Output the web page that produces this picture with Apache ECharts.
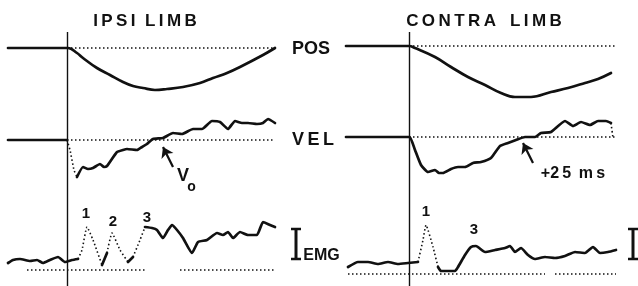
<!DOCTYPE html>
<html>
<head>
<meta charset="utf-8">
<script src="https://cdn.jsdelivr.net/npm/echarts@6/dist/echarts.min.js"></script>
<style>
  html, body { margin: 0; padding: 0; background: #fff; }
  #chart { width: 638px; height: 286px; }
</style>
</head>
<body>
<div id="chart"></div>
<script>
// t = ms from perturbation onset, v = deflection from the trace baseline (up positive)
var ipsiPos = [[-59,0],[0,0],[1,0],[10,-5],[16,-10],[30,-20],[43,-27],[56,-34],[66,-38],[76,-40],[88,-42],[100,-41],[116,-39],[133,-35],[146,-30],[160,-25],[173,-19],[196,-7],[208,0]];
var contraPos = [[-63,0],[0,0],[6,-2],[26,-11],[42,-21],[59,-31],[76,-39],[92,-47],[106,-51],[122,-51],[142,-46],[159,-42],[176,-37],[189,-33],[202,-27]];

var ipsiVel = [[-59,0],[0,0],[3,-10],[7,-30],[10,-37],[16,-27],[21,-29],[26,-28],[33,-24],[37,-27],[40,-26],[50,-12],[56,-10],[60,-9],[70,-10],[75,-7],[80,-4],[86,1],[96,2],[106,7],[115,6],[126,11],[135,11],[145,19],[153,18],[161,11],[168,19],[175,17],[181,17],[190,16],[196,17],[201,21],[208,17]];
var contraVel = [[-63,0],[0,0],[1,0],[6,-13],[12,-28],[19,-35],[26,-33],[30,-36],[34,-36],[42,-32],[49,-30],[56,-30],[64,-26],[72,-25],[82,-21],[91,-9],[99,-6],[107,-3],[116,0],[126,0],[132,4],[142,5],[156,16],[164,11],[172,15],[181,12],[189,16],[197,16],[202,14],[204,-1]];

var ipsiEmg = [[-59,7],[-54,10],[-47,11],[-37,9],[-30,10],[-24,7],[-17,10],[-9,13],[-2,8],[5,10],[11,11],[15,20],[20,43],[26,30],[35,5],[40,17],[45,37],[53,20],[61,8],[66,13],[73,30],[78,43],[85,42],[90,40],[96,32],[101,40],[105,45],[110,40],[116,32],[125,17],[131,28],[140,30],[150,37],[156,35],[161,38],[166,32],[173,38],[181,35],[190,35],[196,48],[203,45],[208,43]];
var contraEmg = [[-61,7],[-51,12],[-41,12],[-31,10],[-21,12],[-11,10],[-1,11],[9,12],[14,34],[17,49],[24,27],[29,7],[32,3],[46,3],[49,7],[56,19],[62,27],[67,28],[76,22],[86,24],[96,26],[101,28],[106,22],[112,26],[119,19],[126,15],[136,17],[146,16],[156,18],[166,22],[176,21],[184,27],[191,21],[199,22],[207,24]];

// parts of the traces that the scope drew as dots (fast sweeps)
var ipsiVelDots = [[0,10]];
var contraVelDots = [[202,210]];
var ipsiEmgDots = [[11,33],[38,58],[66,80]];
var contraEmgDots = [[9,30]];

// dotted reference lines (t ranges)
var ipsiEmgBase = [[-40,80],[113,208]];
var contraEmgBase = [[-61,136],[146,207]];

// arrows: [tail, tip]
var ipsiArrow = [[106,-27],[96,-7]];
var contraArrow = [[124,-26],[114,-6]];

var ink = '#111';
var FONT = '"Liberation Sans", Arial, sans-serif';

function pieces(pts, dots) {
  var out = [], cur = [pts[0]], curDot = null;
  for (var i = 1; i < pts.length; i++) {
    var mid = (pts[i - 1][0] + pts[i][0]) / 2;
    var d = dots.some(function (s) { return mid > s[0] && mid < s[1]; });
    if (curDot === null) curDot = d;
    if (d !== curDot) {
      out.push({ pts: cur, dot: curDot });
      cur = [pts[i - 1]];
      curDot = d;
    }
    cur.push(pts[i]);
  }
  out.push({ pts: cur, dot: curDot });
  return out;
}

function dotLines(ranges) {
  return ranges.map(function (r) { return [{ coord: [r[0], 0] }, { coord: [r[1], 0] }]; });
}

function traceSeries(pts, dots, idx, smooth, marks) {
  return pieces(pts, dots).map(function (p, k) {
    var s = {
      type: 'line', xAxisIndex: idx, yAxisIndex: idx, data: p.pts,
      symbol: 'none', smooth: smooth, silent: true,
      lineStyle: p.dot ? { color: ink, width: 1.6, type: [1.5, 2.5] } : { color: ink, width: 2.7, cap: 'round', join: 'round' }
    };
    if (k === 0 && marks) s.markLine = marks;
    return s;
  });
}

function baseMark(ranges, arrow) {
  var m = {
    silent: true, symbol: 'none', label: { show: false },
    lineStyle: { color: ink, width: 1.5, type: [1.5, 2.5] },
    data: dotLines(ranges)
  };
  if (arrow) {
    m.data.push([
      { coord: arrow[0], symbol: 'none', lineStyle: { type: 'solid', width: 2.2 } },
      { coord: arrow[1], symbol: 'arrow', symbolSize: 10 }
    ]);
  }
  return m;
}

// grid layout: [left, width, xmin, xmax]
var panels = [[8, 267, -59, 208], [346, 270, -63, 207]];
// rows: [top, height, ymin, ymax] per panel
var rows = [
  [[43, 50, -45, 5], [41, 60, -55, 5]],
  [[115, 65, -40, 25], [112, 65, -40, 25]],
  [[220, 55, -5, 50], [219, 60, -5, 55]]
];

var grids = [], xAxes = [], yAxes = [];
function addGrid(p, top, height, ymin, ymax) {
  grids.push({ left: p[0], width: p[1], top: top, height: height });
  var i = grids.length - 1;
  xAxes.push({ type: 'value', gridIndex: i, min: p[2], max: p[3], show: false });
  yAxes.push({ type: 'value', gridIndex: i, min: ymin, max: ymax, show: false });
}
rows.forEach(function (r) {
  addGrid(panels[0], r[0][0], r[0][1], r[0][2], r[0][3]);
  addGrid(panels[1], r[1][0], r[1][1], r[1][2], r[1][3]);
});
// onset marker grids, full panel height
addGrid(panels[0], 32, 254, 0, 1);
addGrid(panels[1], 32, 254, 0, 1);

var series = [].concat(
  traceSeries(ipsiPos, [], 0, 0.4, baseMark([[0, 208]])),
  traceSeries(contraPos, [], 1, 0.4, baseMark([[0, 206]])),
  traceSeries(ipsiVel, ipsiVelDots, 2, 0.15, baseMark([[0, 208]], ipsiArrow)),
  traceSeries(contraVel, contraVelDots, 3, 0.15, baseMark([[0, 207]], contraArrow)),
  traceSeries(ipsiEmg, ipsiEmgDots, 4, 0.15, baseMark(ipsiEmgBase)),
  traceSeries(contraEmg, contraEmgDots, 5, 0.15, baseMark(contraEmgBase))
);
[6, 7].forEach(function (g) {
  series.push({
    type: 'line', xAxisIndex: g, yAxisIndex: g, data: [], symbol: 'none', silent: true,
    markLine: {
      silent: true, symbol: 'none', label: { show: false },
      lineStyle: { color: ink, width: 1.4, type: 'solid' },
      data: [{ xAxis: 0 }]
    }
  });
});

function txt(s, x, y, size, weight) {
  return {
    type: 'text', silent: true,
    style: {
      text: s, x: x, y: y, fill: ink,
      font: (weight || 'normal') + ' ' + size + 'px ' + FONT,
      textAlign: 'center', textVerticalAlign: 'middle'
    }
  };
}
function bar(x, y1, y2) {
  var st = { stroke: ink, lineWidth: 2.5 };
  return [
    { type: 'line', silent: true, shape: { x1: x, y1: y1, x2: x, y2: y2 }, style: { stroke: ink, lineWidth: 3 } },
    { type: 'line', silent: true, shape: { x1: x - 5, y1: y1 + 1, x2: x + 5, y2: y1 + 1 }, style: st },
    { type: 'line', silent: true, shape: { x1: x - 5, y1: y2 - 1, x2: x + 5, y2: y2 - 1 }, style: st }
  ];
}

var thin = '\u2009';
var graphic = [
  txt(['I', 'P', 'S', 'I'].join(thin) + '  ' + ['L', 'I', 'M', 'B'].join(thin), 145, 21, 17, 'bold'),
  txt(['C', 'O', 'N', 'T', 'R', 'A'].join(thin) + '   ' + ['L', 'I', 'M', 'B'].join(thin), 484, 21.5, 17, 'bold'),
  txt('POS', 311, 49, 18, 'bold'),
  txt('V' + thin + 'E' + thin + 'L', 313, 140, 18, 'bold'),
  txt('EMG', 321.5, 256, 16, 'bold'),
  txt('+2' + thin + '5' + thin + ' m' + thin + 's', 573, 174, 16, 'bold'),
  txt('V', 183, 176.5, 18, 'bold'),
  txt('o', 191.5, 187, 14, 'bold'),
  txt('1', 86, 214, 15, 'bold'),
  txt('2', 113, 222, 15, 'bold'),
  txt('3', 147, 218, 15, 'bold'),
  txt('1', 426, 212, 15, 'bold'),
  txt('3', 474, 230, 15, 'bold')
].concat(bar(296, 228, 260), bar(633, 228, 260));

var chart = echarts.init(document.getElementById('chart'));
chart.setOption({
  animation: false,
  backgroundColor: '#fff',
  grid: grids,
  xAxis: xAxes,
  yAxis: yAxes,
  series: series,
  graphic: graphic
});
</script>
</body>
</html>
